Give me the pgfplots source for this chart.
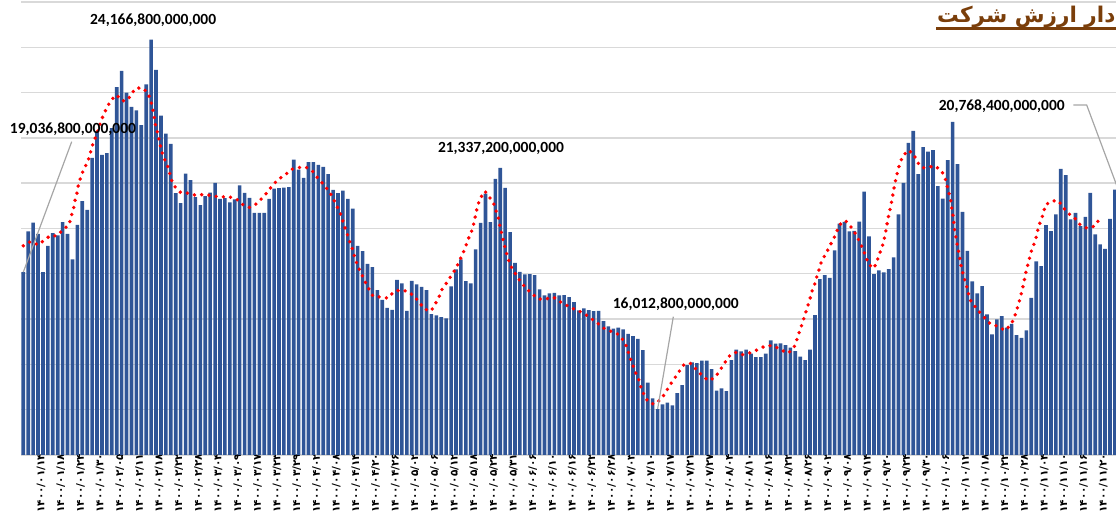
\documentclass[border=0pt]{standalone}
\usepackage{fontspec}
\usepackage{pgfplots}
\usepackage{pgfplotstable}
\pgfplotsset{compat=1.18}
\setmainfont{Carlito}
\newfontfamily\arabicfont[Script=Arabic]{DejaVu Sans}
\newfontfamily\digitfont{DejaVu Sans}
\TeXXeTstate=1
\definecolor{barblue}{RGB}{47,85,151}
\definecolor{titlebrown}{RGB}{122,62,10}
\definecolor{gridgray}{RGB}{217,217,217}
\definecolor{leadgray}{RGB}{166,166,166}

\pgfplotstableread{
k v
0 19036.8
1 19934
2 20132
3 19882
4 19037
5 19618
6 19897
7 19846
8 20140
9 19882
10 19316
11 20081
12 20603
13 20412
14 21559
15 22150
16 21625
17 21662
18 22213
19 23118
20 23478
21 23000
22 22684
23 22610
24 22279
25 23184
26 24166.8
27 23500
28 22493
29 22096
30 21868
31 20779
32 20559
33 21213
34 21066
35 20691
36 20515
37 20713
38 20794
39 21007
40 20654
41 20669
42 20574
43 20640
44 20949
45 20787
46 20676
47 20346
48 20346
49 20346
50 20654
51 20882
52 20890
53 20904
54 20912
55 21522
56 21301
57 21118
58 21463
59 21463
60 21404
61 21360
62 21199
63 20853
64 20779
65 20838
66 20654
67 20441
68 19618
69 19500
70 19221
71 19147
72 18640
73 18426
74 18250
75 18206
76 18868
77 18787
78 18184
79 18846
80 18765
81 18713
82 18640
83 18110
84 18081
85 18044
86 18015
87 18721
88 19100
89 19316
90 18838
91 18787
92 19537
93 20125
94 20772
95 20140
96 21096
97 21337.2
98 20897
99 19919
100 19243
101 19044
102 18985
103 18993
104 18971
105 18654
106 18522
107 18566
108 18581
109 18522
110 18529
111 18485
112 18375
113 18191
114 18235
115 18199
116 18176
117 18184
118 17956
119 17838
120 17787
121 17809
122 17772
123 17676
124 17625
125 17566
126 17316
127 16600
128 16250
129 16012.8
130 16117
131 16154
132 16096
133 16368
134 16544
135 16985
136 17044
137 17029
138 17081
139 17081
140 16897
141 16419
142 16471
143 16412
144 17096
145 17324
146 17287
147 17324
148 17235
149 17162
150 17162
151 17235
152 17529
153 17456
154 17463
155 17426
156 17368
157 17294
158 17169
159 17096
160 17324
161 18088
162 18882
163 18971
164 18912
165 19515
166 20110
167 20147
168 19934
169 19949
170 20154
171 20816
172 19824
173 18993
174 19074
175 19029
176 19103
177 19360
178 20312
179 21007
180 21890
181 22154
182 21199
183 21794
184 21699
185 21728
186 20934
187 20662
188 21507
189 22353
190 21419
191 20368
192 19507
193 18831
194 18566
195 18728
196 18103
197 17662
198 17993
199 18066
200 17809
201 17897
202 17647
203 17588
204 17750
205 18471
206 19272
207 19169
208 20074
209 19941
210 20309
211 21316
212 21176
213 20199
214 20346
215 20051
216 20257
217 20787
218 19868
219 19647
220 19551
221 20213
222 20860
}\bardata

\pgfplotstableread{
k v
0 19618
1.5 19713
3 19640
4.4 19750
5.4 19838
6.9 19838
8 19970
9.3 20081
9.7 20250
10.2 20434
10.5 20610
10.9 20780
11.2 20963
11.7 21140
12.3 21309
13.1 21470
13.6 21647
14 21816
14.6 21993
15.7 22338
16.3 22507
17 22669
17.8 22831
19 22949
19.9 22824
20.9 22816
21.9 22934
22.7 23088
24.1 23110
25.3 23000
25.9 22831
26.3 22662
26.6 22471
26.9 22279
27.3 22103
27.7 21927
28 21757
28.5 21574
29.3 21404
30.1 21081
30.8 20926
32 20794
33.5 20779
35 20735
36.7 20750
38.3 20728
40 20691
41.6 20706
43.3 20654
44.5 20537
45.9 20463
47.4 20544
48.6 20676
49.7 20809
50.7 20956
51.9 21088
53.2 21176
54.4 21301
55.8 21346
57.5 21353
58.8 21265
59.8 21125
60.9 20993
62 20846
62.9 20699
63.6 20529
64.4 20360
64.9 20193
65.4 20022
66 19846
66.5 19669
67.1 19500
67.5 19324
68.1 19154
68.8 18993
69.5 18824
70.3 18662
71.1 18507
72.7 18485
74.2 18463
75.3 18596
76.7 18647
78.2 18610
79.5 18507
80.6 18360
81.6 18220
82.9 18176
83.8 18338
84.6 18500
85.2 18669
86.2 18816
87.1 18971
88 19118
88.7 19287
89.4 19449
90 19618
90.6 19794
91.3 19971
91.7 20140
92 20316
92.4 20493
92.9 20662
93.9 20824
94.8 20691
95.7 20537
96.2 20368
96.7 20198
97 20015
97.4 19838
97.8 19654
98.2 19478
98.7 19301
99.3 19140
100.2 18978
101.1 18831
102.2 18684
103.5 18559
104.7 18441
106.3 18448
107.9 18478
109.3 18375
110.8 18287
112.3 18206
113.8 18140
115.3 18029
116.6 17926
117.9 17809
119.4 17735
120.9 17669
122.1 17529
122.8 17368
123.2 17206
123.8 17029
124.4 16853
125.1 16684
125.5 16522
126.2 16338
127.1 16169
128.3 16118
129.7 16228
130.6 16375
131.5 16544
132.5 16700
133.4 16846
134.4 16999
135.8 17022
136.9 16882
138.1 16750
139.3 16640
140.7 16713
141.7 16875
142.6 17022
143.5 17177
144.8 17265
146.4 17213
148.1 17265
149.6 17338
151 17412
152.6 17412
154.1 17316
155.6 17250
156.7 17360
157.3 17537
157.8 17706
158.4 17890
158.9 18066
159.4 18243
159.9 18404
160.3 18581
160.9 18757
161.4 18934
161.9 19118
162.4 19294
163.3 19456
164.1 19632
164.9 19794
166 20081
167.2 20176
168.3 20037
169.2 19890
170 19728
170.7 19566
171.3 19390
171.9 19213
173 19118
173.6 19272
174.2 19463
174.8 19640
175.2 19816
175.5 19993
175.8 20176
176.1 20346
176.5 20529
176.8 20720
177.1 20904
177.4 21060
177.8 21243
178.2 21412
178.8 21581
179.9 21728
181.1 21647
181.7 21478
182.9 21338
184.1 21353
185.4 21382
186.8 21265
187.5 21103
187.9 20934
188.3 20765
188.7 20581
188.9 20390
189.2 20213
189.3 20037
189.6 19853
189.9 19669
190.2 19493
190.5 19316
190.8 19132
191.2 18963
191.7 18794
192.1 18618
192.5 18434
193.6 18272
194.6 18140
195.7 18007
196.8 17882
198.1 17845
199.7 17750
200.9 17882
201.6 18051
202.1 18221
202.6 18404
203 18581
203.4 18757
203.7 18934
204.1 19118
204.5 19287
204.9 19463
205.5 19640
206 19809
206.4 19993
206.9 20169
207.5 20338
207.8 20515
209.1 20603
210.5 20618
211.5 20463
212.5 20338
213.8 20235
214.9 20088
216.3 20007
217.9 20051
218.8 20199
}\trenddata

\begin{document}
\begin{tikzpicture}[x=1pt,y=1pt]
\useasboundingbox (0,0) rectangle (1116,529);
\clip (0,0) rectangle (1116,529);
\begin{axis}[
  at={(21pt,74pt)}, anchor=south west,
  scale only axis, width=1095pt, height=455pt,
  xmin=-0.47, xmax=222.23, ymin=15000, ymax=25044,
  axis x line*=bottom, axis y line*=left,
  y axis line style={draw=none},
  x axis line style={gridgray, line width=1.2pt, -},
  ytick={16000,17000,...,25000},
  yticklabels={},
  ymajorgrids, grid style={gridgray, line width=1.4pt},
  xtick={2,6,...,222},
  xticklabels={۱۴۰۰/۰۱/۱۴,۱۴۰۰/۰۱/۱۸,۱۴۰۰/۰۱/۲۴,۱۴۰۰/۰۱/۳۰,۱۴۰۰/۰۲/۰۵,۱۴۰۰/۰۲/۱۱,۱۴۰۰/۰۲/۱۸,۱۴۰۰/۰۲/۲۲,۱۴۰۰/۰۲/۲۸,۱۴۰۰/۰۳/۰۴,۱۴۰۰/۰۳/۰۹,۱۴۰۰/۰۳/۱۷,۱۴۰۰/۰۳/۲۳,۱۴۰۰/۰۳/۲۹,۱۴۰۰/۰۴/۰۲,۱۴۰۰/۰۴/۰۸,۱۴۰۰/۰۴/۱۴,۱۴۰۰/۰۴/۲۰,۱۴۰۰/۰۴/۲۶,۱۴۰۰/۰۵/۰۲,۱۴۰۰/۰۵/۰۶,۱۴۰۰/۰۵/۱۲,۱۴۰۰/۰۵/۱۸,۱۴۰۰/۰۵/۲۴,۱۴۰۰/۰۵/۳۱,۱۴۰۰/۰۶/۰۶,۱۴۰۰/۰۶/۱۰,۱۴۰۰/۰۶/۱۶,۱۴۰۰/۰۶/۲۲,۱۴۰۰/۰۶/۲۸,۱۴۰۰/۰۷/۰۳,۱۴۰۰/۰۷/۱۰,۱۴۰۰/۰۷/۱۷,۱۴۰۰/۰۷/۲۱,۱۴۰۰/۰۷/۲۷,۱۴۰۰/۰۸/۰۴,۱۴۰۰/۰۸/۱۰,۱۴۰۰/۰۸/۱۶,۱۴۰۰/۰۸/۲۲,۱۴۰۰/۰۸/۲۶,۱۴۰۰/۰۹/۰۲,۱۴۰۰/۰۹/۰۸,۱۴۰۰/۰۹/۱۴,۱۴۰۰/۰۹/۲۰,۱۴۰۰/۰۹/۲۴,۱۴۰۰/۰۹/۳۰,۱۴۰۰/۱۰/۰۶,۱۴۰۰/۱۰/۱۲,۱۴۰۰/۱۰/۱۸,۱۴۰۰/۱۰/۲۲,۱۴۰۰/۱۰/۲۸,۱۴۰۰/۱۱/۰۴,۱۴۰۰/۱۱/۱۰,۱۴۰۰/۱۱/۱۶,۱۴۰۰/۱۱/۲۰,۱۴۰۰/۱۱/۲۶},
  major tick length=0pt,
  xticklabel style={rotate=90, anchor=east, inner sep=0pt, xshift=1.5pt, yshift=-8pt, font=\digitfont\bfseries\fontsize{10.5}{12}\selectfont},
  clip=false,
]
\addplot[ybar, bar width=0.74, fill=barblue, draw=none] table[x=k,y=v]{\bardata};
\addplot[red, line width=3.8pt, line cap=round, dash pattern=on 0pt off 7.3pt] table[x=k,y=v]{\trenddata};

\draw[leadgray, line width=1.2pt] (axis cs:9.84,21916) -- (axis cs:0,19036.8);
\draw[leadgray, line width=1.2pt] (axis cs:132.2,18053) -- (axis cs:129,16012.8);
\draw[leadgray, line width=1.2pt] (axis cs:213.55,22726) -- (axis cs:216.27,22726) -- (axis cs:223,20768.4);

\node[font=\bfseries\fontsize{15.5}{18}\selectfont, inner sep=0pt] at (axis cs:26.4,24603) {24,166,800,000,000};
\node[font=\bfseries\fontsize{15.5}{18}\selectfont, inner sep=0pt] at (axis cs:10.1,22190) {19,036,800,000,000};
\node[font=\bfseries\fontsize{15.5}{18}\selectfont, inner sep=0pt] at (axis cs:97.15,21770) {21,337,200,000,000};
\node[font=\bfseries\fontsize{15.5}{18}\selectfont, inner sep=0pt] at (axis cs:132.7,18333) {16,012,800,000,000};
\node[font=\bfseries\fontsize{15.5}{18}\selectfont, inner sep=0pt] at (axis cs:199.0,22689) {20,768,400,000,000};
\end{axis}
\node[anchor=base west, inner sep=0pt, text=titlebrown, font=\arabicfont\bfseries\fontsize{21.6}{25}\selectfont] at (937,506) {\beginR دار ارزش شرکت\endR};
\draw[titlebrown, line width=2.2pt] (936,500.5) -- (1116,500.5);
\end{tikzpicture}
\end{document}
